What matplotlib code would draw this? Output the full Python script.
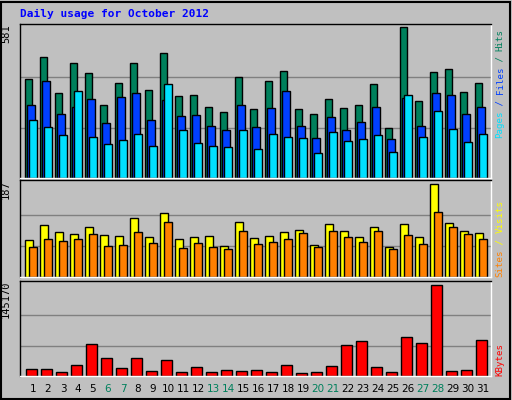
import matplotlib
matplotlib.use("Agg")
import matplotlib.pyplot as plt
import numpy as np

days = list(range(1, 32))
weekend = [6, 7, 13, 14, 20, 21, 27, 28]

hits = [382, 464, 326, 441, 403, 280, 364, 441, 337, 480, 314, 318, 272, 253, 387, 264,
        372, 410, 264, 245, 303, 268, 280, 360, 191, 581, 295, 407, 418, 330, 364]
files = [280, 372, 245, 272, 303, 210, 310, 326, 222, 299, 237, 241, 199, 183, 280, 195,
         268, 333, 199, 153, 233, 183, 214, 272, 149, 307, 199, 326, 318, 245, 272]
pages = [222, 195, 164, 333, 156, 130, 145, 168, 122, 360, 183, 133, 122, 118, 183, 110,
         168, 156, 153, 95, 176, 141, 149, 164, 99, 318, 156, 257, 187, 137, 168]
visits = [74, 105, 90, 86, 101, 84, 82, 119, 80, 128, 76, 80, 82, 62, 111, 78,
          82, 90, 95, 64, 107, 92, 80, 101, 60, 107, 80, 187, 109, 93, 88]
sites = [60, 76, 72, 76, 86, 62, 64, 90, 68, 111, 58, 68, 60, 56, 93, 66,
         70, 76, 88, 60, 92, 80, 70, 92, 56, 84, 66, 130, 101, 86, 76]
kbytes_units = [22, 22, 13, 34, 100, 55, 25, 55, 16, 49, 13, 28, 13, 19, 16, 19,
                13, 34, 10, 13, 31, 97, 109, 28, 13, 121, 103, 286, 16, 19, 112]
kbytes = [u * 145170 / 286 for u in kbytes_units]

BG = "#C0C0C0"
GRID = "#808080"
W, H = 512, 400
fig = plt.figure(figsize=(W / 100, H / 100), dpi=100, facecolor=BG)
mono = "DejaVu Sans Mono"


def panel(y0, y1):
    ax = fig.add_axes([20 / W, 1 - y1 / H, 471 / W, (y1 - y0) / H])
    ax.set_facecolor(BG)
    ax.set_xlim(0, 471)
    ax.set_xticks([])
    ax.set_yticks([])
    for s in ax.spines.values():
        s.set_linewidth(1)
    ax.spines["bottom"].set_color("white")
    ax.spines["right"].set_color("white")
    return ax


def side_label(parts, y_bottom, fs, adv):
    # stack coloured pieces bottom-up along the right edge
    y = y_bottom
    for txt, col in parts:
        fig.text(500 / W, 1 - y / H, txt, rotation=90, ha="center", va="bottom",
                 fontsize=fs, family=mono, color=col)
        y -= adv * len(txt)


x = np.arange(31) * 15.0

# top: hits / files / pages
ax1 = panel(24, 178)
ymax = 581
ax1.set_ylim(0, ymax * 1.02)
for f in (1 / 3, 2 / 3):
    ax1.axhline(ymax * f, color=GRID, lw=1, zorder=0)
kw = dict(align="edge", edgecolor="black", linewidth=1)
ax1.bar(x + 5.3, hits, 7, color="#00805C", **kw)
ax1.bar(x + 7.3, files, 7.4, color="#0040FF", **kw)
ax1.bar(x + 8.7, pages, 8, color="#00E0FF", **kw)
ax1.text(-0.03, 1, "581", transform=ax1.transAxes, rotation=90, ha="center", va="top",
         fontsize=7.5, family=mono)
side_label([("Pages", "#00E0FF"), (" / ", "#0040FF"), ("Files", "#0040FF"),
            (" / ", "#00805C"), ("Hits", "#00805C")], 138, 6.6, 5.45)

# middle: visits / sites
ax2 = panel(180, 277)
vmax = 187
ax2.set_ylim(0, vmax * 1.04)
for f in (1 / 3, 2 / 3):
    ax2.axhline(vmax * f, color=GRID, lw=1, zorder=0)
ax2.bar(x + 5.3, visits, 8, color="#FFFF00", **kw)
ax2.bar(x + 9.3, sites, 8, color="#FF8000", **kw)
ax2.text(-0.03, 1, "187", transform=ax2.transAxes, rotation=90, ha="center", va="top",
         fontsize=7.5, family=mono)
side_label([("Sites", "#FF8000"), (" / ", "#FFFF00"), ("Visits", "#FFFF00")], 277, 6.6, 5.45)

# bottom: kbytes
ax3 = panel(281, 376)
kmax = 145170
ax3.set_ylim(0, kmax * 1.04)
for f in (1 / 3, 2 / 3):
    ax3.axhline(kmax * f, color=GRID, lw=1, zorder=0)
ax3.bar(x + 6, kbytes, 10.5, color="#FF0000", **kw)
ax3.text(-0.03, 1, "145170", transform=ax3.transAxes, rotation=90, ha="center", va="top",
         fontsize=7.5, family=mono)
side_label([("KBytes", "#FF0000")], 376, 6.6, 5.45)

for i, d in enumerate(days):
    fig.text((20 + x[i] + 13) / W, 1 - 389 / H, str(d), ha="center", va="center",
             fontsize=7.5, color="#00805C" if d in weekend else "black")

fig.text(20 / W, 1 - 14 / H, "Daily usage for October 2012", family=mono, weight="bold",
         fontsize=8, color="#0000FF", va="center")

# outer bevel
fig.patches.append(plt.Rectangle((1 / W, 1 / H), 1 - 3 / W, 1 - 3 / H, transform=fig.transFigure,
                                 fill=False, edgecolor="black", lw=1.5))

fig.savefig("out.png", dpi=100, facecolor=BG)
